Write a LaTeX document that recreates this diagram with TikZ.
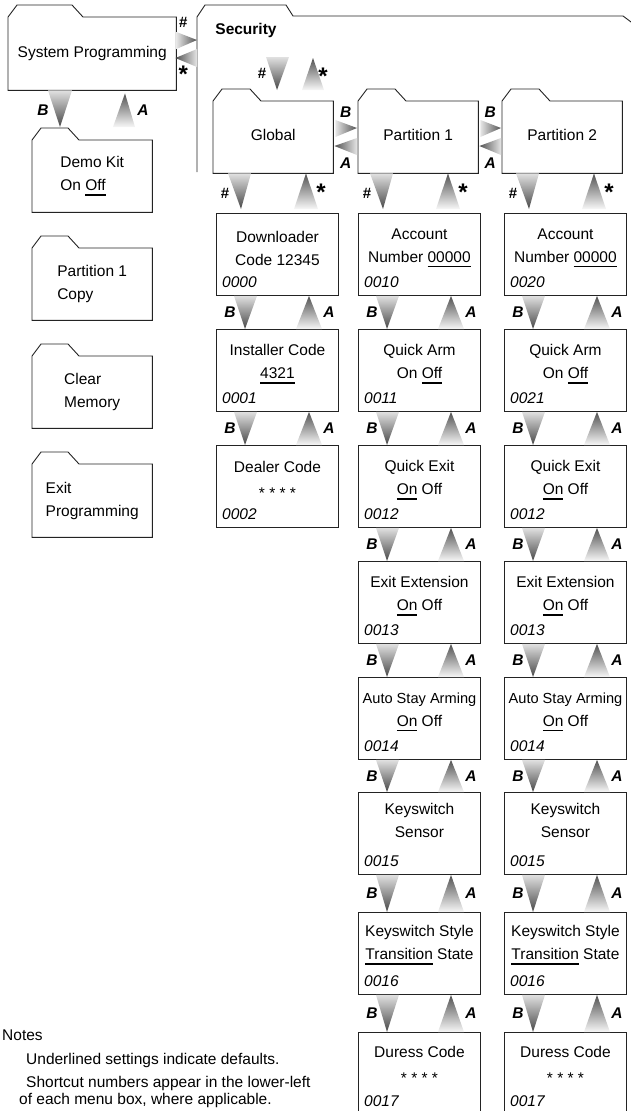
\documentclass[tikz,border=0pt]{standalone}
\usepackage{fontspec}
\setmainfont{Liberation Sans}
\usepackage{xcolor}
\usepackage{tikz}
\usetikzlibrary{calc,positioning}
\definecolor{linegray}{RGB}{35,35,35}

\newcommand{\diagsize}{\fontsize{15.5}{23}\selectfont}
% underlined default setting
\newcommand{\dflt}[1]{\setbox0\hbox{#1}\rlap{\rule[-5pt]{\wd0}{1.6pt}}\box0\relax}
% folder outline round a body node, #2 = tab length
\newcommand{\drawfolder}[2]{\draw[folderline] (#1.north east) -- (#1.south east) -- (#1.south west) -- (#1.north west) -- ++(9,12) -- ++(#2,0) -- ++(11,-12) -- cycle;}

\begin{document}
\begin{tikzpicture}[x=1pt,y=1pt,font=\diagsize,
    menubox/.style={draw=linegray,line width=0.9pt,minimum width=122pt,minimum height=82pt,inner sep=0pt,anchor=north west},
    folder/.style={minimum width=120pt,minimum height=72pt,inner sep=0pt,align=left,anchor=north west},
    folderline/.style={draw=linegray,line width=0.9pt},
    boxtext/.style={align=center,inner sep=0pt},
    codetext/.style={font=\diagsize\itshape,anchor=base west,inner sep=0pt},
    notetext/.style={anchor=base west,inner sep=0pt},
    navkey/.style={font=\diagsize\bfseries\itshape,inner sep=0pt},
    hashkey/.style={font=\fontsize{15}{15}\selectfont\bfseries,inner sep=0pt},
    starkey/.style={font=\fontsize{24}{24}\selectfont\bfseries,inner sep=0pt,yshift=-4pt},
    downtri/.style={top color=black!12,bottom color=black!72},
    uptri/.style={top color=black!68,bottom color=black!3},
    righttri/.style={left color=black!10,right color=black!68},
    lefttri/.style={left color=black!68,right color=black!10}]
    \useasboundingbox (0,0) rectangle (631,-1111);
    \clip (0,0) rectangle (631,-1111);

    % left menu folders
    \node[folder,minimum width=168pt,minimum height=73pt,align=center] (sp) at (8,-17) {System Programming};
    \drawfolder{sp}{55}
    \node[folder] (dk) at (32,-140) {Demo Kit\\On \dflt{Off}};
    \node[folder] (pc) at (32,-248) {Partition 1\\Copy};
    \node[folder] (cm) at (32,-356) {Clear\\Memory};
    \node[folder,minimum height=73pt] (ep) at (32,-464) {Exit\\Programming};
    \foreach \f in {dk,pc,cm,ep} {\drawfolder{\f}{27}}

    % security folder (open at the bottom)
    \coordinate (sec) at (197,-17);
    \draw[folderline] (197,-172) -- (sec) -- (205,-5) -- (286,-5) -- (293,-16) -- (623,-16) -- (647,-34);
    \node[font=\diagsize\bfseries] (seclbl) at (246,-30) {Security};

    % sub folders
    \node[folder,text depth=5pt] (gl) at (213,-101) {Global};
    \node[folder,text depth=5pt] (pa1) at (358,-101) {Partition 1};
    \node[folder,text depth=5pt] (pa2) at (502,-101) {Partition 2};
    \foreach \f in {gl,pa1,pa2} {\drawfolder{\f}{28}}

    % menu boxes
    \foreach \nm/\lx/\ty/\dy/\la/\lb/\code in {
        dl/216/213/35/Downloader/Code 12345/0000,
        ic/216/329/35/Installer Code/\dflt{4321}/0001,
        dc/216/445/35/Dealer Code/\raisebox{-3pt}{* * * *}/0002,
        an1/358/213/35/Account/Number \dflt{00000}/0010,
        qa1/358/329/35/Quick Arm/On \dflt{Off}/0011,
        qe1/358/445/35/Quick Exit/\dflt{On} Off/0012,
        ee1/358/561/35/Exit Extension/\dflt{On} Off/0013,
        as1/358/677/35/{\fontsize{14.6}{23}\selectfont Auto Stay Arming}/\dflt{On} Off/0014,
        ks1/358/792/28/Keyswitch/Sensor/0015,
        kt1/358/912/33/Keyswitch Style/\dflt{Transition} State/0016,
        du1/358/1032/33/Duress Code/\raisebox{-3pt}{* * * *}/0017,
        an2/504/213/35/Account/Number \dflt{00000}/0020,
        qa2/504/329/35/Quick Arm/On \dflt{Off}/0021,
        qe2/504/445/35/Quick Exit/\dflt{On} Off/0012,
        ee2/504/561/35/Exit Extension/\dflt{On} Off/0013,
        as2/504/677/35/{\fontsize{14.6}{23}\selectfont Auto Stay Arming}/\dflt{On} Off/0014,
        ks2/504/792/28/Keyswitch/Sensor/0015,
        kt2/504/912/33/Keyswitch Style/\dflt{Transition} State/0016,
        du2/504/1032/33/Duress Code/\raisebox{-3pt}{* * * *}/0017} {
      \node[menubox] (\nm) at (\lx,-\ty) {};
      \node[boxtext] (\nm-t) at ([yshift=-\dy pt]\nm.north) {\la\\\lb};
      \node[codetext] (\nm-c) at ([xshift=6pt,yshift=-74pt]\nm.north west) {\code};
    }

    % system programming -> security / demo kit
    \shade[righttri] ([yshift=-15pt]sp.north east) -- ([yshift=-32pt]sp.north east) -- ([yshift=-23pt]sec) -- cycle;
    \shade[lefttri] ([yshift=-32pt]sec) -- ([yshift=-50pt]sec) -- ([xshift=-1pt,yshift=-41pt]sp.north east) -- cycle;
    \node[hashkey] (sp-h) at ([xshift=7pt,yshift=-5pt]sp.north east) {\#};
    \node[starkey] (sp-s) at ([xshift=7pt,yshift=-53pt]sp.north east) {*};
    \shade[downtri] ([xshift=40pt]sp.south west) -- ([xshift=64pt]sp.south west) -- ([xshift=28pt,yshift=13pt]dk.north west) -- cycle;
    \shade[uptri] ([xshift=117pt,yshift=-3pt]sp.south west) -- ([xshift=103pt,yshift=13pt]dk.north west) -- ([xshift=81pt,yshift=13pt]dk.north west) -- cycle;
    \node[navkey] (sp-b) at ([xshift=35pt,yshift=-20pt]sp.south west) {B};
    \node[navkey] (sp-a) at ([xshift=135pt,yshift=-20pt]sp.south west) {A};

    % security -> global
    \shade[downtri] ([xshift=53pt,yshift=44pt]gl.north west) -- ([xshift=76pt,yshift=44pt]gl.north west) -- ([xshift=64pt,yshift=11pt]gl.north west) -- cycle;
    \shade[uptri] ([xshift=100pt,yshift=43pt]gl.north west) -- ([xshift=111pt,yshift=11pt]gl.north west) -- ([xshift=89pt,yshift=11pt]gl.north west) -- cycle;
    \node[hashkey] (sec-h) at ([xshift=49pt,yshift=28pt]gl.north west) {\#};
    \node[starkey] (sec-s) at ([xshift=110pt,yshift=29pt]gl.north west) {*};

    % between sub folders
    \foreach \l/\r in {gl/pa1,pa1/pa2} {
      \shade[righttri] ([xshift=2pt,yshift=-19pt]\l.north east) -- ([xshift=2pt,yshift=-36pt]\l.north east) -- ([xshift=-1pt,yshift=-27pt]\r.north west) -- cycle;
      \shade[lefttri] ([xshift=1pt,yshift=-45pt]\l.north east) -- ([xshift=-1pt,yshift=-37pt]\r.north west) -- ([xshift=-1pt,yshift=-54pt]\r.north west) -- cycle;
      \node[navkey,yshift=-11pt] (\l-b) at ($(\l.north east)!0.5!(\r.north west)$) {B};
      \node[navkey,yshift=-62pt] (\l-a) at ($(\l.north east)!0.5!(\r.north west)$) {A};
    }

    % sub folder -> first box
    \foreach \f/\b in {gl/dl,pa1/an1,pa2/an2} {
      \shade[downtri] ([xshift=12pt]\b.north west |- \f.south) -- ([xshift=35pt]\b.north west |- \f.south) -- ([xshift=25pt,yshift=4pt]\b.north west) -- cycle;
      \shade[uptri] ([xshift=90pt]\b.north west |- \f.south) -- ([xshift=102pt,yshift=4pt]\b.north west) -- ([xshift=78pt,yshift=4pt]\b.north west) -- cycle;
      \node[hashkey] (\b-h) at ([xshift=9pt,yshift=20pt]\b.north west) {\#};
      \node[starkey] (\b-s) at ([xshift=105pt,yshift=25pt]\b.north west) {*};
    }

    % box -> box
    \foreach \u/\l in {dl/ic,ic/dc,an1/qa1,qa1/qe1,qe1/ee1,ee1/as1,as1/ks1,ks1/kt1,kt1/du1,
                       an2/qa2,qa2/qe2,qe2/ee2,ee2/as2,as2/ks2,ks2/kt2,kt2/du2} {
      \shade[downtri] ([xshift=18pt]\u.south west) -- ([xshift=41pt]\u.south west) -- ([xshift=29pt]\l.north west) -- cycle;
      \shade[uptri] ([xshift=93pt]\u.south west) -- ([xshift=106pt]\l.north west) -- ([xshift=80pt]\l.north west) -- cycle;
      \node[navkey,xshift=14pt] (\u-b) at ($(\u.south west)!0.5!(\l.north west)$) {B};
      \node[navkey,xshift=113pt] (\u-a) at ($(\u.south west)!0.5!(\l.north west)$) {A};
    }

    % notes
    \node[notetext] (nt) at (2,-1040) {Notes};
    \node[notetext] (n1) at (26,-1064) {Underlined settings indicate defaults.};
    \node[notetext] (n2) at (26,-1087) {Shortcut numbers appear in the lower-left};
    \node[notetext] (n3) at (19,-1104) {of each menu box, where applicable.};
\end{tikzpicture}
\end{document}
